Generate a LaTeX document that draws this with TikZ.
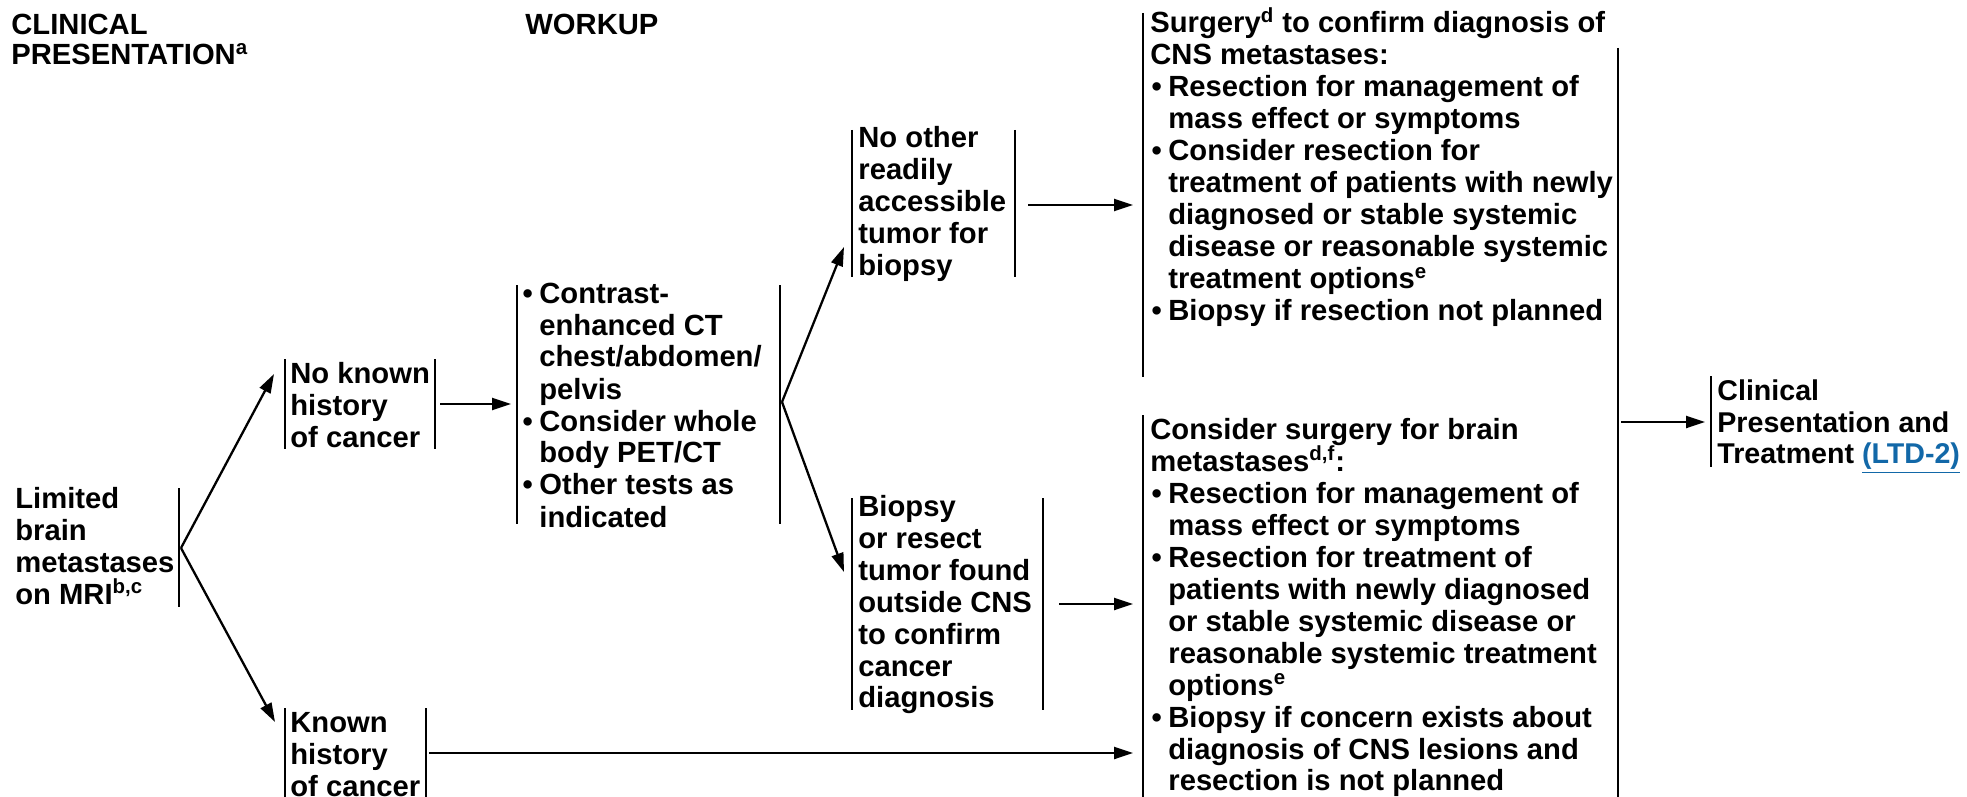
\documentclass[tikz,border=0pt]{standalone}
\usepackage{fontspec}
\setmainfont{Liberation Sans}
\usetikzlibrary{arrows.meta}
\definecolor{linkblue}{RGB}{18,104,168}
\newcommand\ml[1]{\vtop{\lineskiplimit=-\maxdimen\halign{##\hfil\cr#1\crcr}}}
\newcommand\spr[1]{\textsuperscript{#1}}
\newcommand\bul{\makebox[9pt][l]{\hspace{0.6pt}•}}
\newcommand\ind{\hspace*{9pt}}
\tikzset{
  txt/.style={anchor=base west,inner sep=0pt,font=\fontsize{14.6pt}{16pt}\selectfont\bfseries},
  bar/.style={line width=1.25pt},
  arr/.style={line width=1.15pt,-{Triangle[length=9.5pt,width=6pt]}}
}
\begin{document}
\begin{tikzpicture}[x=0.5pt,y=-0.5pt]
\useasboundingbox (0,0) rectangle (1967,797);
% headers
\node[txt,font=\fontsize{14.6pt}{15pt}\selectfont\bfseries] (h1) at (11,35) {\ml{CLINICAL\cr PRESENTATION\spr{a}}};
\node[txt] (h2) at (525,35) {WORKUP};
% texts
\node[txt] (lim) at (15,508) {\ml{Limited\cr brain\cr metastases\cr on MRI\spr{b,c}}};
\node[txt] (nk) at (290,383) {\ml{No known\cr history\cr of cancer}};
\node[txt] (kn) at (290,732) {\ml{Known\cr history\cr of cancer}};
\node[txt] (wk) at (521,303) {\ml{\bul Contrast-\cr\ind enhanced CT\cr\ind chest/abdomen/\cr\ind pelvis\cr\bul Consider whole\cr\ind body PET/CT\cr\bul Other tests as\cr\ind indicated}};
\node[txt] (no) at (858,148) {\ml{No other\cr readily\cr accessible\cr tumor for\cr biopsy}};
\node[txt] (bx) at (858,516) {\ml{Biopsy\cr or resect\cr tumor found\cr outside CNS\cr to confirm\cr cancer\cr diagnosis}};
\node[txt] (s1) at (1150,33) {\ml{Surgery\spr{d} to confirm diagnosis of\cr CNS metastases:\cr\bul Resection for management of\cr\ind mass effect or symptoms\cr\bul Consider resection for\cr\ind treatment of patients with newly\cr\ind diagnosed or stable systemic\cr\ind disease or reasonable systemic\cr\ind treatment options\spr{e}\cr\bul Biopsy if resection not planned}};
\node[txt] (s2) at (1150,439) {\ml{Consider surgery for brain\cr metastases\spr{d,f}:\cr\bul Resection for management of\cr\ind mass effect or symptoms\cr\bul Resection for treatment of\cr\ind patients with newly diagnosed\cr\ind or stable systemic disease or\cr\ind reasonable systemic treatment\cr\ind options\spr{e}\cr\bul Biopsy if concern exists about\cr\ind diagnosis of CNS lesions and\cr\ind resection is not planned}};
\node[txt,font=\fontsize{14.3pt}{16pt}\selectfont\bfseries] (cp) at (1717,400) {\ml{Clinical\cr Presentation and\cr Treatment {\color{linkblue}\underline{(LTD-2)}}}};
% bars
\draw[bar] (179,488) -- (179,607);
\draw[bar] (285,359) -- (285,449);
\draw[bar] (435,359) -- (435,449);
\draw[bar] (285,708) -- (285,797);
\draw[bar] (426,708) -- (426,797);
\draw[bar] (517,285) -- (517,524);
\draw[bar] (780,285) -- (780,524);
\draw[bar] (852,130) -- (852,277);
\draw[bar] (1015,130) -- (1015,277);
\draw[bar] (852,498) -- (852,710);
\draw[bar] (1043,498) -- (1043,710);
\draw[bar] (1143,13) -- (1143,377);
\draw[bar] (1143,415) -- (1143,797);
\draw[bar] (1618,48) -- (1618,797);
\draw[bar] (1711,376) -- (1711,467);
% connector ends
\coordinate (lim-o) at (181,548);
\coordinate (nk-i) at (274,374);
\coordinate (kn-i) at (275,722);
\coordinate (nk-o) at (440,404);
\coordinate (wk-i) at (511,404);
\coordinate (wk-o) at (782,402);
\coordinate (no-i) at (844,247);
\coordinate (bx-i) at (844,572);
\coordinate (no-o) at (1028,205);
\coordinate (s1-i) at (1133,205);
\coordinate (bx-o) at (1059,604);
\coordinate (s2-i) at (1133,604);
\coordinate (kn-o) at (429,753);
\coordinate (s2-j) at (1133,753);
\coordinate (s-o) at (1621,422);
\coordinate (cp-i) at (1705,422);
% connectors
\draw[arr] (lim-o) -- (nk-i);
\draw[arr] (lim-o) -- (kn-i);
\draw[arr] (nk-o) -- (wk-i);
\draw[arr] (wk-o) -- (no-i);
\draw[arr] (wk-o) -- (bx-i);
\draw[arr] (no-o) -- (s1-i);
\draw[arr] (bx-o) -- (s2-i);
\draw[arr] (kn-o) -- (s2-j);
\draw[arr] (s-o) -- (cp-i);
\end{tikzpicture}
\end{document}
